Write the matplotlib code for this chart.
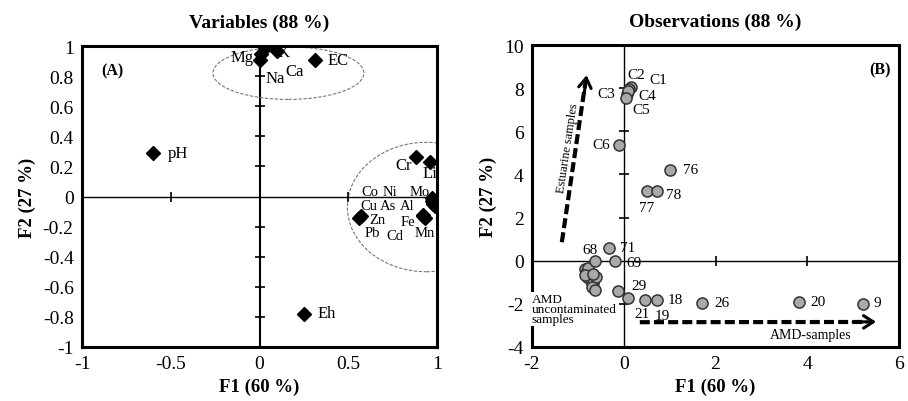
import matplotlib
matplotlib.use("Agg")
import matplotlib.pyplot as plt
from matplotlib.patches import Ellipse
import numpy as np

plt.rcParams['font.family'] = ['Liberation Serif', 'DejaVu Serif']
plt.rcParams['axes.unicode_minus'] = False

# ---- Variables (loadings) ----
var_names = ['Mg', 'Na', 'Ca', 'K', 'EC', 'pH', 'Eh', 'Cr', 'Li', 'Co', 'Ni', 'Mo',
             'Cu', 'As', 'Al', 'Zn', 'Fe', 'Pb', 'Cd', 'Mn']
var_f1 = [0.00, 0.01, 0.03, 0.10, 0.31, -0.60, 0.25, 0.88, 0.96, 0.97, 0.98, 0.97,
          0.98, 0.99, 0.98, 0.57, 0.92, 0.56, 0.93, 0.92]
var_f2 = [0.91, 0.95, 0.99, 0.97, 0.91, 0.29, -0.78, 0.26, 0.23, -0.01, -0.02, -0.03,
          -0.05, -0.06, -0.04, -0.13, -0.13, -0.14, -0.14, -0.12]
# label anchor positions (data coords)
var_lab_x = [-0.10, 0.087, 0.20, 0.135, 0.44, -0.46, 0.38, 0.81, 0.96, 0.62, 0.735, 0.90,
             0.615, 0.722, 0.83, 0.665, 0.836, 0.635, 0.763, 0.93]
var_lab_y = [0.93, 0.79, 0.837, 0.963, 0.91, 0.286, -0.777, 0.206, 0.153, 0.03, 0.03, 0.03,
             -0.062, -0.062, -0.058, -0.15, -0.166, -0.24, -0.26, -0.24]
# the crowded metal cluster gets a slightly smaller font
small_labels = ['Co', 'Ni', 'Mo', 'Cu', 'As', 'Al', 'Zn', 'Fe', 'Pb', 'Cd', 'Mn']

# ---- Observations (scores) ----
obs_names = ['C1', 'C2', 'C3', 'C4', 'C5', 'C6', '76', '77', '78', '68', '71', '69',
             '29', '21', '19', '18', '26', '20', '9']
obs_f1 = [0.15, 0.12, 0.08, 0.10, 0.05, -0.10, 1.01, 0.51, 0.72, -0.63, -0.32, -0.18,
          -0.12, 0.10, 0.46, 0.72, 1.71, 3.82, 5.22]
obs_f2 = [8.05, 7.95, 7.75, 7.85, 7.55, 5.38, 4.22, 3.25, 3.25, 0.00, 0.59, 0.00,
          -1.42, -1.73, -1.80, -1.80, -1.97, -1.90, -2.00]
obs_lab_x = [0.75, 0.267, -0.38, 0.51, 0.376, -0.50, 1.46, 0.507, 1.08, -0.74, 0.08, 0.23,
             0.33, 0.40, 0.83, 1.13, 2.15, 4.24, 5.52]
obs_lab_y = [8.42, 8.61, 7.77, 7.64, 7.03, 5.41, 4.25, 2.49, 3.05, 0.54, 0.63, -0.06,
             -1.17, -2.47, -2.52, -1.82, -1.96, -1.91, -1.96]
# uncontaminated samples cluster (unlabelled)
unc_f1 = [-0.85, -0.82, -0.78, -0.80, -0.75, -0.70, -0.72, -0.65, -0.68, -0.60,
          -0.70, -0.62, -0.78, -0.85, -0.66]
unc_f2 = [-0.40, -0.55, -0.65, -0.75, -0.50, -0.80, -0.95, -0.85, -1.05, -0.75,
          -1.20, -1.35, -0.35, -0.65, -0.60]

fig = plt.figure(figsize=(9.08, 4.02), dpi=100)
ax1 = fig.add_axes([82 / 908, 54 / 402, 355 / 908, 301 / 402])
ax2 = fig.add_axes([532 / 908, 54 / 402, 367 / 908, 302 / 402])

# ---------------- panel A ----------------
ax1.set_xlim(-1, 1)
ax1.set_ylim(-1, 1)
ax1.axvline(0, color='black', lw=1.5, zorder=1)
ax1.axhline(0, color='black', lw=1.0, zorder=1)
yt = [-0.8, -0.6, -0.4, -0.2, 0.2, 0.4, 0.6, 0.8]
ax1.plot(np.zeros(len(yt)), yt, ls='none', marker='_', ms=7, mew=1.2, color='black')
ax1.plot([-0.5, 0.5], [0, 0], ls='none', marker='|', ms=7, mew=1.2, color='black')

ax1.add_patch(Ellipse((0.163, 0.82), 0.85, 0.35, fill=False, ls=(0, (3, 1.5)),
                      lw=0.8, edgecolor='#777777'))
ax1.add_patch(Ellipse((0.94, -0.07), 0.89, 0.86, fill=False, ls=(0, (3, 1.5)),
                      lw=0.8, edgecolor='#777777'))

ax1.plot(var_f1, var_f2, ls='none', marker='D', ms=7.5, color='black', zorder=4)
for n, lx, ly in zip(var_names, var_lab_x, var_lab_y):
    fs = 10.5 if n in small_labels else 12
    ax1.text(lx, ly, n, ha='center', va='center', fontsize=fs, clip_on=True)

ax1.text(0.085, 0.92, '(A)', transform=ax1.transAxes, fontsize=11.5, fontweight='bold',
         ha='center', va='center')
ax1.set_xticks([-1, -0.5, 0, 0.5, 1])
ax1.set_xticklabels(['-1', '-0.5', '0', '0.5', '1'])
ax1.set_yticks(np.round(np.arange(-1, 1.01, 0.2), 1))
ax1.set_yticklabels(['-1', '-0.8', '-0.6', '-0.4', '-0.2', '0', '0.2', '0.4', '0.6', '0.8', '1'])
ax1.set_title('Variables (88 %)', fontsize=14, fontweight='bold', pad=14)

# ---------------- panel B ----------------
ax2.set_xlim(-2, 6)
ax2.set_ylim(-4, 10)
ax2.axvline(0, color='black', lw=1.0, zorder=1)
ax2.axhline(0, color='black', lw=1.0, zorder=1)
ax2.plot(np.zeros(5), [-2, 2, 4, 6, 8], ls='none', marker='_', ms=7, mew=1.2, color='black')
ax2.plot([2, 4], [0, 0], ls='none', marker='|', ms=7, mew=1.2, color='black')

pt_style = dict(ls='none', marker='o', ms=8, mfc='#a9a9a9', mec='#333333', mew=1.1, zorder=4)
ax2.plot(unc_f1, unc_f2, **pt_style)
ax2.plot(obs_f1, obs_f2, **pt_style)
for n, lx, ly in zip(obs_names, obs_lab_x, obs_lab_y):
    ax2.text(lx, ly, n, ha='center', va='center', fontsize=11)

# arrows
ax2.plot([-1.35, -0.84], [0.86, 8.2], color='black', lw=3, dashes=(2.4, 1), zorder=3)
ax2.annotate('', xy=(-0.81, 8.6), xytext=(-0.86, 7.8),
             arrowprops=dict(arrowstyle='->,head_length=0.7,head_width=0.45', lw=2.2,
                             color='black', shrinkA=0, shrinkB=0))
ax2.plot([0.35, 5.3], [-2.85, -2.84], color='black', lw=3, dashes=(2.4, 1), zorder=3)
ax2.annotate('', xy=(5.5, -2.83), xytext=(5.0, -2.84),
             arrowprops=dict(arrowstyle='->,head_length=0.7,head_width=0.45', lw=2.2,
                             color='black', shrinkA=0, shrinkB=0))
ax2.text(-1.22, 5.27, 'Estuarine samples', rotation=81.4, ha='center', va='center',
         fontsize=9)
ax2.text(4.08, -3.4, 'AMD-samples', ha='center', va='center', fontsize=10)
ax2.text(-2.0, -1.5, 'AMD\nuncontaminated\nsamples', ha='left', va='top', fontsize=9.5,
         linespacing=0.8, clip_on=False, zorder=3,
         bbox=dict(facecolor='white', edgecolor='none', pad=0.5))

ax2.text(0.948, 0.92, '(B)', transform=ax2.transAxes, fontsize=11.5, fontweight='bold',
         ha='center', va='center')
ax2.set_xticks([-2, 0, 2, 4, 6])
ax2.set_yticks([-4, -2, 0, 2, 4, 6, 8, 10])
ax2.set_title('Observations (88 %)', fontsize=14, fontweight='bold', pad=14)

for ax in (ax1, ax2):
    for s in ax.spines.values():
        s.set_linewidth(2.2)
    ax.tick_params(length=0, labelsize=14, pad=6)
    ax.set_xlabel('F1 (60 %)', fontsize=13.5, fontweight='bold', labelpad=4)
    ax.set_ylabel('F2 (27 %)', fontsize=13.5, fontweight='bold', labelpad=5)

fig.savefig('out.png', dpi=100)
